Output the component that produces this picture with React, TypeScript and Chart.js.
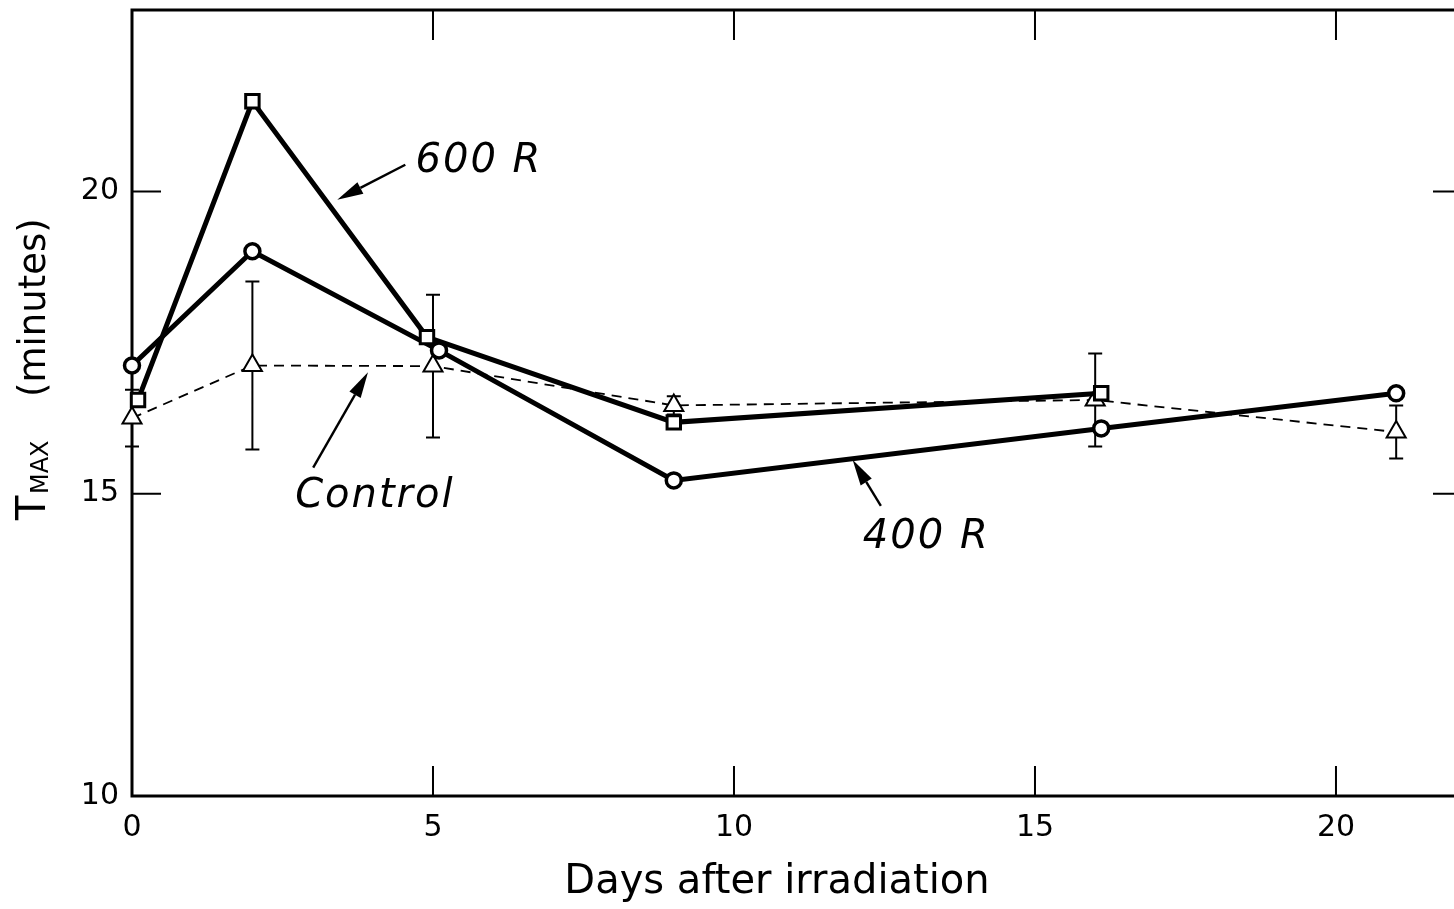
import React, { useEffect, useRef } from "react";
import { Chart, registerables } from "chart.js";

Chart.register(...registerables);

// T_MAX (minutes) against days after irradiation
const DAYS_600 = [0.1, 2, 4.9, 9, 16.1];
const TMAX_600 = [16.55, 21.49, 17.59, 16.18, 16.66];

const DAYS_400 = [0, 2, 5.1, 9, 16.1, 21];
const TMAX_400 = [17.12, 19.01, 17.37, 15.22, 16.08, 16.66];

const DAYS_CONTROL = [0, 2, 5, 9, 16, 21];
const TMAX_CONTROL = [16.25, 17.12, 17.11, 16.46, 16.55, 16.02];
const ERR_CONTROL = [0.47, 1.39, 1.18, 0.15, 0.77, 0.44];

const X_TICKS = [0, 5, 10, 15, 20];
const Y_TICKS = [10, 15, 20];

const X_MIN = 0;
const X_MAX = 22.11;
const Y_MIN = 10;
const Y_MAX = 23;

// Callout labels with their arrows, in data coordinates
const CALLOUTS = [
  { text: "600 R", tx: 4.71, ty: 20.32, fromX: 4.54, fromY: 20.44, toX: 3.41, toY: 19.86 },
  { text: "Control", tx: 2.71, ty: 14.78, fromX: 3.01, fromY: 15.43, toX: 3.92, toY: 17.01 },
  { text: "400 R", tx: 12.14, ty: 14.1, fromX: 12.44, fromY: 14.8, toX: 11.97, toY: 15.56 },
];

const FONT = "'DejaVu Sans', 'Liberation Sans', Arial, sans-serif";
const CANVAS_SHIFT = 3;

const toPoints = (xs: number[], ys: number[]) => xs.map((x, i) => ({ x, y: ys[i] }));

function arrow(ctx: CanvasRenderingContext2D, x1: number, y1: number, x2: number, y2: number) {
  const ang = Math.atan2(y2 - y1, x2 - x1);
  const headLen = 26;
  const headHalf = 6.5;
  const bx = x2 - Math.cos(ang) * headLen;
  const by = y2 - Math.sin(ang) * headLen;
  ctx.beginPath();
  ctx.moveTo(x1, y1);
  ctx.lineTo(bx, by);
  ctx.stroke();
  ctx.beginPath();
  ctx.moveTo(x2, y2);
  ctx.lineTo(bx + Math.sin(ang) * headHalf, by - Math.cos(ang) * headHalf);
  ctx.lineTo(bx - Math.sin(ang) * headHalf, by + Math.cos(ang) * headHalf);
  ctx.closePath();
  ctx.fill();
}

const noPadding = (s: any) => {
  s.paddingTop = 0;
  s.paddingBottom = 0;
  s.paddingLeft = 0;
  s.paddingRight = 0;
};

const decorPlugin = {
  id: "decor",
  beforeDatasetsDraw(chart: any) {
    const { ctx, chartArea: a } = chart;
    const x = chart.scales.x;
    const y = chart.scales.y;
    ctx.save();
    ctx.strokeStyle = "#000";
    ctx.fillStyle = "#000";

    // frame
    ctx.lineWidth = 3;
    ctx.strokeRect(a.left, a.top, a.right - a.left, a.bottom - a.top);

    // inward tick marks on all four sides
    ctx.lineWidth = 2;
    ctx.beginPath();
    X_TICKS.forEach((v) => {
      if (v === X_MIN) return;
      const px = x.getPixelForValue(v);
      ctx.moveTo(px, a.bottom);
      ctx.lineTo(px, a.bottom - 30);
      ctx.moveTo(px, a.top);
      ctx.lineTo(px, a.top + 30);
    });
    Y_TICKS.forEach((v) => {
      if (v === Y_MIN) return;
      const py = y.getPixelForValue(v);
      ctx.moveTo(a.left, py);
      ctx.lineTo(a.left + 29, py);
      ctx.moveTo(a.right, py);
      ctx.lineTo(a.right - 30, py);
    });
    ctx.stroke();

    // control error bars
    ctx.lineWidth = 2;
    ctx.beginPath();
    DAYS_CONTROL.forEach((d, i) => {
      const px = x.getPixelForValue(d);
      const top = y.getPixelForValue(TMAX_CONTROL[i] + ERR_CONTROL[i]);
      const bot = y.getPixelForValue(TMAX_CONTROL[i] - ERR_CONTROL[i]);
      ctx.moveTo(px, top);
      ctx.lineTo(px, bot);
      ctx.moveTo(px - 7, top);
      ctx.lineTo(px + 7, top);
      ctx.moveTo(px - 7, bot);
      ctx.lineTo(px + 7, bot);
    });
    ctx.stroke();
    ctx.restore();
  },
  afterDatasetsDraw(chart: any) {
    const { ctx } = chart;
    const x = chart.scales.x;
    const y = chart.scales.y;
    ctx.save();
    ctx.fillStyle = "#000";
    ctx.strokeStyle = "#000";

    // callouts
    ctx.lineWidth = 2.4;
    CALLOUTS.forEach((c) => {
      arrow(
        ctx,
        x.getPixelForValue(c.fromX),
        y.getPixelForValue(c.fromY),
        x.getPixelForValue(c.toX),
        y.getPixelForValue(c.toY)
      );
      ctx.font = `oblique 40px ${FONT}`;
      ctx.textAlign = "left";
      ctx.textBaseline = "alphabetic";
      try { (ctx as any).letterSpacing = "2px"; } catch (e) {}
      ctx.fillText(c.text, x.getPixelForValue(c.tx), y.getPixelForValue(c.ty));
    });
    try { (ctx as any).letterSpacing = "0px"; } catch (e) {}

    // x axis title
    ctx.font = `40px ${FONT}`;
    ctx.textAlign = "center";
    ctx.textBaseline = "alphabetic";
    ctx.fillText("Days after irradiation", 777, 893 + CANVAS_SHIFT);

    // y axis title with subscript
    ctx.save();
    ctx.translate(45, 520 + CANVAS_SHIFT);
    ctx.rotate(-Math.PI / 2);
    ctx.textAlign = "left";
    ctx.font = `40px ${FONT}`;
    ctx.fillText("T", 0, 0);
    ctx.font = `24px ${FONT}`;
    ctx.fillText("MAX", 26, 3);
    ctx.font = `37px ${FONT}`;
    ctx.fillText("(minutes)", 123, 0);
    ctx.restore();

    ctx.restore();
  },
};

export default function App() {
  const canvasRef = useRef<HTMLCanvasElement | null>(null);

  useEffect(() => {
    document.body.style.margin = "0";
    const canvas = canvasRef.current;
    if (!canvas) return;

    const chart = new Chart(canvas, {
      type: "line",
      data: {
        datasets: [
          {
            label: "600 R",
            data: toPoints(DAYS_600, TMAX_600),
            borderColor: "#000",
            borderWidth: 5,
            pointStyle: "rect",
            pointRadius: 9.5,
            pointBorderWidth: 3,
            pointBackgroundColor: "#fff",
            pointBorderColor: "#000",
            tension: 0,
            clip: false,
          },
          {
            label: "400 R",
            data: toPoints(DAYS_400, TMAX_400),
            borderColor: "#000",
            borderWidth: 5,
            pointStyle: "circle",
            pointRadius: 7.5,
            pointBorderWidth: 3.5,
            pointBackgroundColor: "#fff",
            pointBorderColor: "#000",
            tension: 0,
            clip: false,
          },
          {
            label: "Control",
            data: toPoints(DAYS_CONTROL, TMAX_CONTROL),
            borderColor: "#000",
            borderWidth: 1.8,
            borderDash: [10, 7],
            pointStyle: "triangle",
            pointRadius: 11,
            pointBorderWidth: 2,
            pointBackgroundColor: "#fff",
            pointBorderColor: "#000",
            tension: 0,
            clip: false,
          },
        ],
      },
      options: {
        animation: false,
        responsive: false,
        devicePixelRatio: 1,
        layout: { padding: { top: 8, right: 0, bottom: 0, left: 0 } },
        plugins: {
          legend: { display: false },
          tooltip: { enabled: false },
        },
        scales: {
          x: {
            type: "linear",
            min: X_MIN,
            max: X_MAX,
            grid: { display: false, drawTicks: false },
            border: { display: false },
            afterBuildTicks: (s: any) => {
              s.ticks = X_TICKS.map((v) => ({ value: v }));
            },
            afterFit: (s: any) => {
              s.height = 113 + CANVAS_SHIFT;
              noPadding(s);
            },
            ticks: {
              color: "#000",
              font: { family: FONT, size: 30 },
              padding: 14,
              maxRotation: 0,
              autoSkip: false,
            },
          },
          y: {
            type: "linear",
            min: Y_MIN,
            max: Y_MAX,
            grid: { display: false, drawTicks: false },
            border: { display: false },
            afterBuildTicks: (s: any) => {
              s.ticks = Y_TICKS.map((v) => ({ value: v }));
            },
            afterFit: (s: any) => {
              s.width = 132;
              noPadding(s);
            },
            ticks: {
              color: "#000",
              font: { family: FONT, size: 30 },
              padding: 13,
              autoSkip: false,
            },
          },
        },
      },
      plugins: [decorPlugin],
    } as any);

    return () => chart.destroy();
  }, []);

  return (
    <div
      style={{
        position: "fixed",
        left: 0,
        top: 0,
        width: 1454,
        height: 909,
        overflow: "hidden",
        background: "#fff",
      }}
    >
      <canvas
        ref={canvasRef}
        width={1476}
        height={909 + 2 * CANVAS_SHIFT}
        style={{
          width: 1476,
          height: 909 + 2 * CANVAS_SHIFT,
          display: "block",
          marginTop: -CANVAS_SHIFT,
        }}
      />
    </div>
  );
}
